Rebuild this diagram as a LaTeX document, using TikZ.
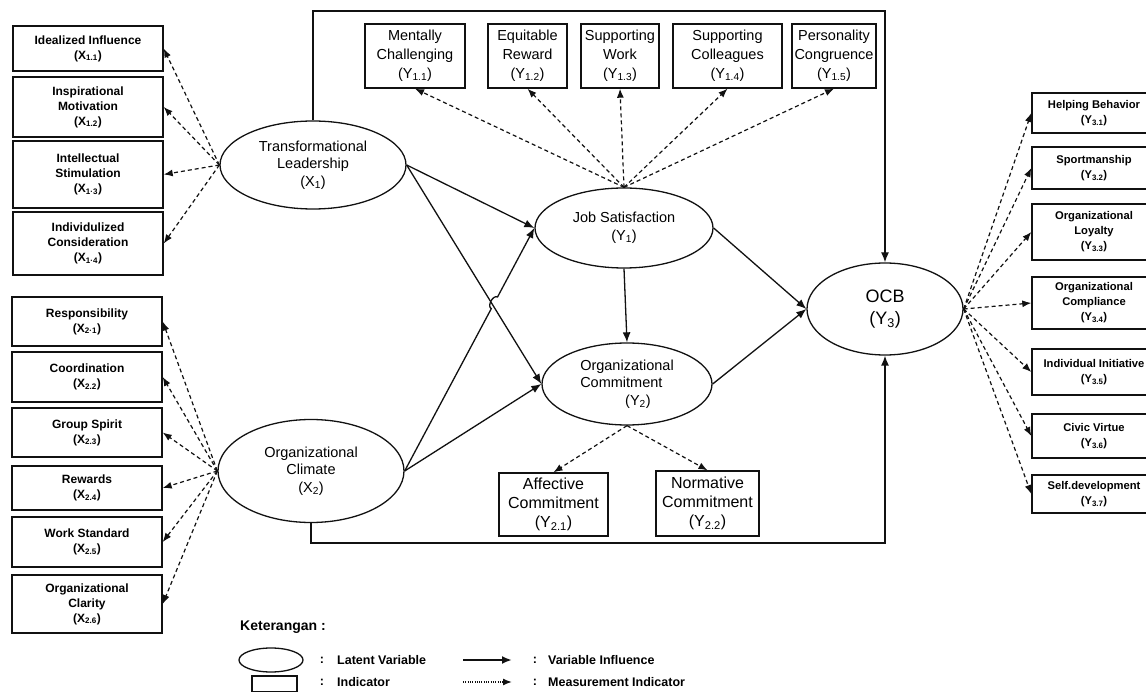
\documentclass[tikz,border=0pt]{standalone}
\usepackage{fontspec}
\setmainfont{Liberation Sans}
\usepackage{tikz}
\usetikzlibrary{calc,arrows.meta,shapes.geometric}
\definecolor{ink}{HTML}{111111}
\tikzset{
  lat/.style={draw=ink, ellipse, line width=1.3pt, inner sep=0pt, align=center, font=\fontsize{14.5}{17.5}\selectfont},
  ind/.style={draw=ink, rectangle, line width=1.4pt, inner sep=0pt, align=center},
  indl/.style={ind, minimum width=150, font=\bfseries\fontsize{12}{15}\selectfont},
  indr/.style={ind, minimum width=124, font=\bfseries\fontsize{11.2}{15}\selectfont},
  indt/.style={ind, minimum height=64, font=\fontsize{14.5}{19}\selectfont},
  indb/.style={ind, font=\fontsize{16}{19}\selectfont},
  infl/.style={draw=ink, line width=1.3pt, -{Latex[length=10pt,width=8pt]}},
  meas/.style={draw=ink, line width=1.2pt, dash pattern=on 4pt off 3pt, -{Latex[length=9pt,width=7pt]}},
  legtxt/.style={font=\bfseries\fontsize{12.5}{14}\selectfont, inner sep=0pt}
}

\begin{document}
\begin{tikzpicture}[x=1pt, y=-1pt]
  \useasboundingbox (0,0) rectangle (1146,692);
  \clip (0,0) rectangle (1146,692);

  % latent variables
  \node[lat, minimum width=186, minimum height=88] (x1) at (313,165) {Transformational\\Leadership\\(X\textsubscript{1})};
  \node[lat, minimum width=186, minimum height=103] (x2) at (311,471) {Organizational\\Climate\\(X\textsubscript{2})};
  \node[lat, minimum width=178, minimum height=80] (js) at (624,228) {Job Satisfaction\\(Y\textsubscript{1})};
  \node[lat, minimum width=170, minimum height=82, align=left] (oc) at (627,384) {Organizational\\Commitment\\\hspace*{3.1em}(Y\textsubscript{2})};
  \node[lat, minimum width=156, minimum height=92, font=\fontsize{18}{22}\selectfont] (ocb) at (885,309) {OCB\\(Y\textsubscript{3})};

  % indicators of X1
  \node[indl, minimum height=45] (i11) at (88,48.5) {Idealized Influence\\(X\textsubscript{1.1})};
  \node[indl, minimum height=60] (i12) at (88,107) {Inspirational\\Motivation\\(X\textsubscript{1.2})};
  \node[indl, minimum height=67] (i13) at (88,174.5) {Intellectual\\Stimulation\\(X\textsubscript{1·3})};
  \node[indl, minimum height=63] (i14) at (88,243.5) {Individulized\\Consideration\\(X\textsubscript{1·4})};

  % indicators of X2
  \node[indl, minimum height=49] (i21) at (87,321.5) {Responsibility\\(X\textsubscript{2·1})};
  \node[indl, minimum height=50] (i22) at (87,377) {Coordination\\(X\textsubscript{2.2})};
  \node[indl, minimum height=49] (i23) at (87,432.5) {Group Spirit\\(X\textsubscript{2.3})};
  \node[indl, minimum height=44] (i24) at (87,488) {Rewards\\(X\textsubscript{2.4})};
  \node[indl, minimum height=50] (i25) at (87,542) {Work Standard\\(X\textsubscript{2.5})};
  \node[indl, minimum height=58] (i26) at (87,604) {Organizational\\Clarity\\(X\textsubscript{2.6})};

  % indicators of Y1
  \node[indt, minimum width=100] (j11) at (415,56) {Mentally\\Challenging\\(Y\textsubscript{1.1})};
  \node[indt, minimum width=79] (j12) at (527.5,56) {Equitable\\Reward\\(Y\textsubscript{1.2})};
  \node[indt, minimum width=78] (j13) at (620,56) {Supporting\\Work\\(Y\textsubscript{1.3})};
  \node[indt, minimum width=109] (j14) at (727.5,56) {Supporting\\Colleagues\\(Y\textsubscript{1.4})};
  \node[indt, minimum width=84] (j15) at (834,56) {Personality\\Congruence\\(Y\textsubscript{1.5})};

  % indicators of Y2
  \node[indb, minimum width=109, minimum height=63] (c21) at (553.5,504.5) {Affective\\Commitment\\(Y\textsubscript{2.1})};
  \node[indb, minimum width=103, minimum height=65] (c22) at (707.5,503.5) {Normative\\Commitment\\(Y\textsubscript{2.2})};

  % indicators of Y3
  \node[indr, minimum height=40] (o31) at (1094,113) {Helping Behavior\\(Y\textsubscript{3.1})};
  \node[indr, minimum height=42] (o32) at (1094,168) {Sportmanship\\(Y\textsubscript{3.2})};
  \node[indr, minimum height=56] (o33) at (1094,232) {Organizational\\Loyalty\\(Y\textsubscript{3.3})};
  \node[indr, minimum height=52] (o34) at (1094,303) {Organizational\\Compliance\\(Y\textsubscript{3.4})};
  \node[indr, minimum height=46] (o35) at (1094,372) {Individual Initiative\\(Y\textsubscript{3.5})};
  \node[indr, minimum height=44] (o36) at (1094,436) {Civic Virtue\\(Y\textsubscript{3.6})};
  \node[indr, minimum height=38] (o37) at (1094,494) {Self.development\\(Y\textsubscript{3.7})};

  % measurement arrows
  \draw[meas] (x1.west) -- (i11.east);
  \draw[meas] (x1.west) -- (i12.east);
  \draw[meas] (x1.west) -- (i13.east);
  \draw[meas] (x1.west) -- (i14.east);
  \draw[meas] (x2.west) -- (i21.east);
  \draw[meas] (x2.west) -- (i22.east);
  \draw[meas] (x2.west) -- (i23.east);
  \draw[meas] (x2.west) -- (i24.east);
  \draw[meas] (x2.west) -- (i25.east);
  \draw[meas] (x2.west) -- (i26.east);
  \draw[meas] (js.north) -- (j11.south);
  \draw[meas] (js.north) -- (j12.south);
  \draw[meas] (js.north) -- (j13.south);
  \draw[meas] (js.north) -- (j14.south);
  \draw[meas] (js.north) -- (j15.south);
  \draw[meas] (oc.south) -- (c21.north);
  \draw[meas] (oc.south) -- (c22.north);
  \draw[meas] (ocb.east) -- (o31.west);
  \draw[meas] (ocb.east) -- (o32.west);
  \draw[meas] (ocb.east) -- (o33.west);
  \draw[meas] (ocb.east) -- (o34.west);
  \draw[meas] (ocb.east) -- (o35.west);
  \draw[meas] (ocb.east) -- (o36.west);
  \draw[meas] (ocb.east) -- (o37.west);

  % variable influence
  \coordinate (toprail) at (600,11);
  \coordinate (botrail) at (600,543);
  \draw[infl] (x1.north) |- (toprail) -| (ocb.north);
  \draw[infl] (x2.south) |- (botrail) -| (ocb.south);
  \draw[infl] (x1.east) -- (js.west);
  \draw[infl] (x1.east) -- (oc.west);
  \coordinate (hopa) at ($(x2.east)!0.668!(js.west)$);
  \coordinate (hopb) at ($(x2.east)!0.716!(js.west)$);
  \draw[infl] (x2.east) -- (hopa) to[bend left=90] (hopb) -- (js.west);
  \draw[infl] (x2.east) -- (oc.west);
  \draw[infl] (js.south) -- (oc.north);
  \draw[infl] (js.east) -- (ocb.west);
  \draw[infl] (oc.east) -- (ocb.west);

  % legend
  \node[font=\bfseries\fontsize{14}{16}\selectfont, anchor=west, inner sep=0pt] (keter) at (240,627) {Keterangan :};
  \node[lat, minimum width=64, minimum height=24] (legell) at (271,660) {};
  \node[ind, minimum width=45, minimum height=16] (legbox) at (274.5,684) {};
  \node[legtxt] (col1) at (322,660) {:};
  \node[legtxt] (col2) at (322,682) {:};
  \node[legtxt, anchor=west] (leglat) at (337,660) {Latent Variable};
  \node[legtxt, anchor=west] (legind) at (337,682) {Indicator};
  \coordinate (la) at (463,660);
  \coordinate (lb) at (512,660);
  \coordinate (lc) at (463,682);
  \coordinate (ld) at (512,682);
  \draw[infl, line width=2.6pt] (la) -- (lb);
  \draw[meas, line width=1.4pt, dash pattern=on 1pt off 1.3pt] (lc) -- (ld);
  \node[legtxt] (col3) at (535,660) {:};
  \node[legtxt] (col4) at (535,682) {:};
  \node[legtxt, anchor=west] (leginf) at (548,660) {Variable Influence};
  \node[legtxt, anchor=west] (legmea) at (548,682) {Measurement Indicator};
\end{tikzpicture}
\end{document}
